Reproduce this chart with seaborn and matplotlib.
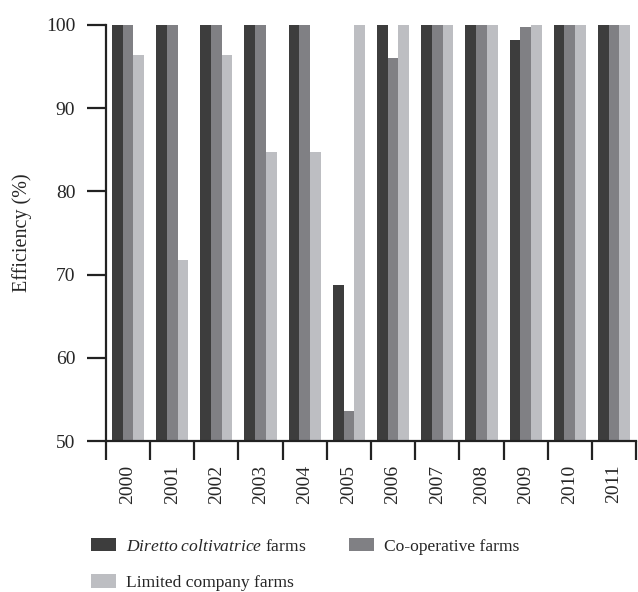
import numpy as np
import pandas as pd
import seaborn as sns
import matplotlib.pyplot as plt
from matplotlib.ticker import FixedLocator

sns.set_style("ticks")
plt.rcParams['font.family'] = ['Liberation Serif', 'DejaVu Serif']
plt.rcParams['mathtext.fontset'] = 'custom'
plt.rcParams['mathtext.rm'] = 'Liberation Serif'
plt.rcParams['mathtext.it'] = 'Liberation Serif:italic'

# === data ===
years = ["2000", "2001", "2002", "2003", "2004", "2005",
         "2006", "2007", "2008", "2009", "2010", "2011"]
diretto = [100, 100, 100, 100, 100, 68.7, 100, 100, 100, 98.2, 100, 100]
cooperative = [100, 100, 100, 100, 100, 53.6, 96.0, 100, 100, 99.8, 100, 100]
limited = [96.4, 71.8, 96.4, 84.7, 84.7, 100, 100, 100, 100, 100, 100, 100]

farm_types = ["Diretto coltivatrice farms", "Co-operative farms", "Limited company farms"]
legend_labels = [r"$\it{Diretto\ coltivatrice}$ farms", "Co-operative farms", "Limited company farms"]
colors = ["#3d3d3d", "#808084", "#bdbec2"]

df = pd.DataFrame({
    "Year": years * 3,
    "Efficiency": diretto + cooperative + limited,
    "Farm type": [farm_types[0]] * 12 + [farm_types[1]] * 12 + [farm_types[2]] * 12,
})

fig = plt.figure(figsize=(6.38, 5.92), dpi=100)
ax = fig.add_axes([0.166, 0.255, 0.831, 0.703])

sns.barplot(data=df, x="Year", y="Efficiency", hue="Farm type", hue_order=farm_types,
            palette=colors, saturation=1, width=0.73, linewidth=0, ax=ax)

handles, _ = ax.get_legend_handles_labels()
ax.legend_.remove()

ax.set_ylim(50, 100)
ax.set_xlim(-0.5, len(years) - 0.5)
ax.set_yticks([50, 60, 70, 80, 90, 100])
ax.set_xlabel("")
ax.set_ylabel("Efficiency (%)", fontsize=14.5, labelpad=10)

# tick marks between the year groups, labels centred under them
ax.xaxis.set_minor_locator(FixedLocator(np.arange(-0.5, len(years), 1.0)))
ax.tick_params(axis="x", which="major", length=0, pad=17, labelsize=14, labelrotation=90)
ax.tick_params(axis="x", which="minor", length=14, width=1.6, direction="out", color="#222222")
ax.tick_params(axis="y", length=14, width=1.6, pad=8, labelsize=14, color="#222222")

for side in ["left", "bottom"]:
    ax.spines[side].set_linewidth(1.6)
    ax.spines[side].set_color("#222222")
sns.despine(ax=ax)

# legend fills column-wise: put Limited under Diretto, Co-operative on the right
order = [0, 2, 1]
fig.legend([handles[i] for i in order], [legend_labels[i] for i in order],
           loc="upper left", bbox_to_anchor=(0.143, 0.092),
           ncol=2, frameon=False, fontsize=12.6, handlelength=1.43, handleheight=0.85,
           handletextpad=0.55, columnspacing=2.45, labelspacing=1.1,
           borderpad=0, borderaxespad=0)

fig.savefig("out.png", dpi=100)
